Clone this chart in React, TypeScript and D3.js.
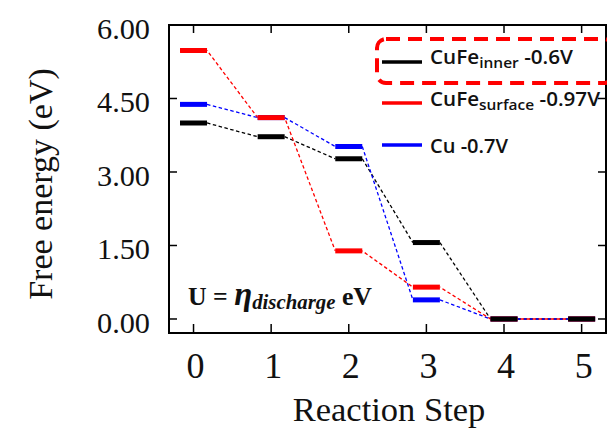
import React from "react";
import * as d3 from "d3";

const steps = [0, 1, 2, 3, 4, 5];
const cufeInner = [4.0, 3.72, 3.27, 1.56, 0, 0];
const cufeSurface = [5.48, 4.11, 1.39, 0.65, 0, 0];
const cu = [4.38, 4.11, 3.52, 0.39, 0, 0];
const yTicks = [0, 1.5, 3, 4.5, 6];
const yTickLabels = ["0.00", "1.50", "3.00", "4.50", "6.00"];

const W = 607;
const H = 431;
const L = 169, R = 606, T = 25, B = 333;
const SERIF = '"Liberation Serif", "Times New Roman", "DejaVu Serif", serif';
const SANS = '"Open Sans", "Noto Sans", sans-serif';

export default function App() {
  const x = d3.scaleLinear().domain([-0.316, 5.314]).range([L, R]);
  const y = d3.scaleLinear().domain([-0.286, 6.0]).range([B, T]);
  const half = 0.174;

  const series = [
    { name: "cu", vals: cu, color: "#0000ff", dashOff: 0 },
    { name: "surface", vals: cufeSurface, color: "#ff0000", dashOff: 3 },
    { name: "inner", vals: cufeInner, color: "#000000", dashOff: 0 },
  ];
  const connOrder = [series[2], series[0], series[1]];

  return (
    <svg width={W} height={H} style={{ position: "absolute", left: 0, top: 0, background: "#fff" }}>
      <rect x={0} y={0} width={W} height={H} fill="#fff" />
      {connOrder.map((s) => (
        <g key={"c" + s.name}>
          {steps.slice(0, -1).map((st, i) => (
            <line
              key={i}
              x1={x(st + half)}
              y1={y(s.vals[i])}
              x2={x(steps[i + 1] - half)}
              y2={y(s.vals[i + 1])}
              stroke={s.color}
              strokeWidth={1.3}
              strokeDasharray="3.5,2.5"
              strokeDashoffset={s.dashOff}
            />
          ))}
        </g>
      ))}
      {series.map((s) => (
        <g key={"b" + s.name}>
          {steps.map((st, i) => (
            <line
              key={i}
              x1={x(st - half)}
              x2={x(st + half)}
              y1={y(s.vals[i])}
              y2={y(s.vals[i])}
              stroke={s.color}
              strokeWidth={5}
            />
          ))}
        </g>
      ))}
      <rect x={L} y={T} width={R - L} height={B - T} fill="none" stroke="#000" strokeWidth={2} />
      {yTicks.map((t) => (
        <g key={"yt" + t}>
          <line x1={L} x2={L + 8} y1={y(t)} y2={y(t)} stroke="#000" strokeWidth={1.5} />
          <line x1={R} x2={R - 8} y1={y(t)} y2={y(t)} stroke="#000" strokeWidth={1.5} />
        </g>
      ))}
      {steps.map((s) => (
        <g key={"xt" + s}>
          <line x1={x(s)} x2={x(s)} y1={B} y2={B - 9} stroke="#000" strokeWidth={1.5} />
          <line x1={x(s)} x2={x(s)} y1={T} y2={T + 8} stroke="#000" strokeWidth={1.5} />
        </g>
      ))}
      {yTicks.map((t, i) => (
        <text
          key={"yl" + t}
          x={150}
          y={y(t) + 14}
          textAnchor="end"
          style={{ fontFamily: SERIF }}
          fontSize={30}
          fill="#111"
          textLength={53}
          lengthAdjust="spacingAndGlyphs"
        >
          {yTickLabels[i]}
        </text>
      ))}
      {steps.map((s) => (
        <text
          key={"xl" + s}
          x={x(s) + 2}
          y={378}
          textAnchor="middle"
          style={{ fontFamily: SERIF }}
          fontSize={36}
          fill="#111"
        >
          {s}
        </text>
      ))}
      <text
        x={389}
        y={421}
        textAnchor="middle"
        style={{ fontFamily: SERIF }}
        fontSize={34.5}
        fill="#111"
      >
        Reaction Step
      </text>
      <text
        transform="translate(52,184) rotate(-90)"
        textAnchor="middle"
        style={{ fontFamily: SERIF }}
        fontSize={34}
        fill="#111"
      >
        Free energy (eV)
      </text>
      <text
        x={188}
        y={305}
        style={{ fontFamily: SERIF }}
        fontWeight="bold"
        fill="#111"
        textLength={184}
        lengthAdjust="spacingAndGlyphs"
      >
        <tspan fontSize={26}>U = </tspan>
        <tspan fontSize={33} fontStyle="italic">η</tspan>
        <tspan fontSize={21} fontStyle="italic" dy={4}>discharge</tspan>
        <tspan fontSize={26} dy={-4}> eV</tspan>
      </text>
      <rect
        x={377}
        y={39}
        width={236}
        height={44}
        rx={9}
        fill="none"
        stroke="#ff0000"
        strokeWidth={4}
        strokeDasharray="14,8"
      />
      {[
        { color: "#000", ly: 62, ty: 64, main: "CuFe", sub: "inner", tail: " -0.6V", len: 143 },
        { color: "#ff0000", ly: 103, ty: 106, main: "CuFe", sub: "surface", tail: " -0.97V", len: 170 },
        { color: "#0000ff", ly: 145, ty: 153, main: "Cu -0.7V", sub: "", tail: "", len: 78 },
      ].map((e, i) => (
        <g key={"lg" + i}>
          <line x1={382} x2={422} y1={e.ly} y2={e.ly} stroke={e.color} strokeWidth={3.5} />
          <text
            x={430}
            y={e.ty}
            style={{ fontFamily: SANS }}
            fontWeight={600}
            fill="#111"
            textLength={e.len}
            lengthAdjust="spacingAndGlyphs"
          >
            <tspan fontSize={20}>{e.main}</tspan>
            {e.sub && (
              <tspan fontSize={15} dy={4}>
                {e.sub}
              </tspan>
            )}
            {e.tail && (
              <tspan fontSize={20} dy={-4}>
                {e.tail}
              </tspan>
            )}
          </text>
        </g>
      ))}
    </svg>
  );
}
